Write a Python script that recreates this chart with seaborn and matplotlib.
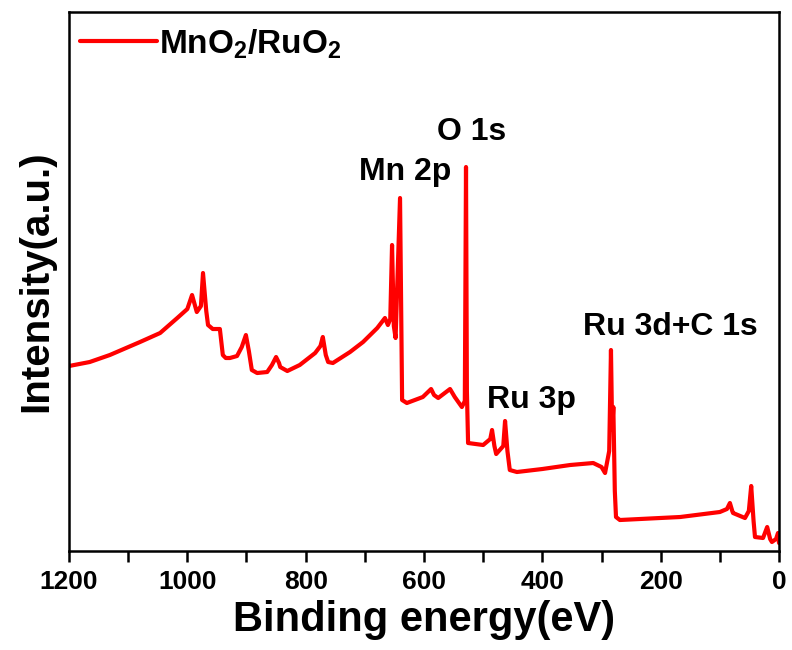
import matplotlib
matplotlib.use('Agg')
import matplotlib.pyplot as plt
import seaborn as sns
import pandas as pd
from matplotlib.ticker import MultipleLocator

# XPS survey spectrum (a.u.)
binding_energy = [1200, 1165, 1131, 1080, 1046, 1017, 1000, 992, 984, 977, 973.5, 968, 965, 957,
                  945, 940, 935, 928, 916, 908, 901, 896, 891, 882, 865, 857, 850, 845, 843, 831,
                  810, 784, 775, 771, 766, 762, 754, 725, 703, 679, 666, 661, 657, 654, 651, 648,
                  640.5, 637, 629, 602, 588, 583, 576, 556, 548, 536, 531, 529, 527.5, 525.5,
                  500, 488, 485, 481, 478, 466, 463, 459, 455, 443, 400, 353, 314, 300, 294, 287,
                  284, 282, 280, 277.5, 275.5, 269, 167, 100, 88, 83, 79, 77.7, 57.5, 51, 47, 43,
                  40.6, 27, 20, 15, 12, 5, 1.7, 0]
intensity = [185, 189, 196, 209, 218, 233, 242, 256, 239, 245, 278, 240, 226, 222,
             222, 196, 193, 193, 195, 204, 216, 200, 181, 178, 179, 186, 194, 188, 184, 180,
             186, 198, 205, 214, 196, 189, 188, 199, 209, 223, 233, 226, 232, 306, 225, 213,
             353, 151, 148, 154, 162, 156, 153, 162, 154, 144, 150, 384, 160, 108,
             106, 112, 121, 105, 97, 105, 130, 100, 81, 79, 82, 86, 88, 84, 78, 100,
             201, 121, 144, 60, 34, 31, 34, 39, 42, 48, 40, 38, 33, 40, 65, 30,
             14, 13, 24, 12, 9, 12, 18, 8]

peak_labels = ['Mn 2p', 'O 1s', 'Ru 3p', 'Ru 3d+C 1s']
label_x = [632, 520, 419, 184]
label_y = [379, 419, 151, 224]

sns.set_style("ticks")
plt.rcParams['font.family'] = ['Liberation Sans', 'DejaVu Sans']
plt.rcParams['font.weight'] = 'bold'
plt.rcParams['mathtext.fontset'] = 'custom'
plt.rcParams['mathtext.rm'] = 'Liberation Sans:bold'
plt.rcParams['mathtext.default'] = 'rm'
for key in ['text.color', 'axes.labelcolor', 'xtick.color', 'ytick.color', 'axes.edgecolor']:
    plt.rcParams[key] = 'black'

df = pd.DataFrame({'be': binding_energy, 'counts': intensity})

fig = plt.figure(figsize=(7.92, 6.5), dpi=100)
ax = fig.add_axes([0.0871, 0.1523, 0.8965, 0.8292])

sns.lineplot(data=df, x='be', y='counts', color='red', linewidth=3,
             estimator=None, sort=False, label=r'MnO$_2$/RuO$_2$', ax=ax)

ax.set_xlim(1200, 0)
ax.set_ylim(0, 539)
ax.set_yticks([])
ax.xaxis.set_major_locator(MultipleLocator(200))
ax.xaxis.set_minor_locator(MultipleLocator(100))
ax.tick_params(axis='x', which='both', direction='out', length=8, width=1.8,
               labelsize=19, pad=6, color='black', labelcolor='black')
for lab in ax.get_xticklabels():
    lab.set_fontweight('bold')
for sp in ax.spines.values():
    sp.set_visible(True)
    sp.set_linewidth(1.8)
    sp.set_color('black')

ax.set_xlabel('Binding energy(eV)', fontsize=30, fontweight='bold', labelpad=4)
ax.set_ylabel('Intensity(a.u.)', fontsize=29, fontweight='bold', labelpad=10)

for txt, xx, yy in zip(peak_labels, label_x, label_y):
    ax.text(xx, yy, txt, fontsize=23, fontweight='bold', ha='center', va='center')

leg = ax.legend(loc='upper left', frameon=False, fontsize=24, handlelength=2.3,
                handletextpad=0.05, borderaxespad=0.15, bbox_to_anchor=(-0.01, 1.006))
for t in leg.get_texts():
    t.set_fontweight('bold')
    t.set_color('black')

fig.savefig('out.png', dpi=100)
